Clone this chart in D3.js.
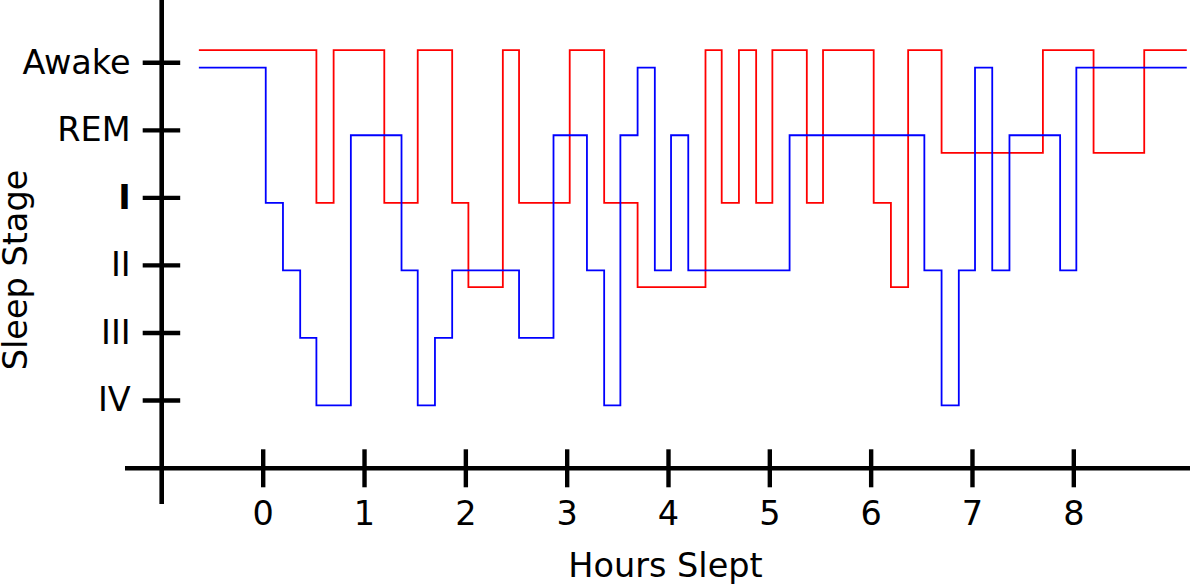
<!DOCTYPE html>
<html>
<head>
<meta charset="utf-8">
<script src="https://cdn.jsdelivr.net/npm/d3@7"></script>
<style>
body { margin: 0; background: #fff; }
text { font-family: "DejaVu Sans", sans-serif; }
</style>
</head>
<body>
<svg width="1190" height="584"></svg>
<script>
var stages = ["Awake", "REM", "I", "II", "III", "IV"];
var hourTicks = [0, 1, 2, 3, 4, 5, 6, 7, 8];

// blue sleeper: time each stage starts (hours), last entry = end of record
var blueHours = [-0.63, 0.03, 0.2, 0.37, 0.53, 0.87, 1.37, 1.53, 1.7, 1.87, 2.53, 2.87, 3.2, 3.37, 3.53, 3.7, 3.87, 4.03, 4.2, 5.2, 6.53, 6.7, 6.87, 7.03, 7.2, 7.37, 7.87, 8.03, 9.12];
var blueStages = ["Awake", "I", "II", "III", "IV", "REM", "II", "IV", "III", "II", "III", "REM", "II", "IV", "REM", "Awake", "II", "REM", "II", "REM", "II", "IV", "II", "Awake", "II", "REM", "II", "Awake", "Awake"];

// red trace: levels in stage units (0 = Awake ... 5 = IV)
var redHours = [-0.63, 0.53, 0.7, 1.2, 1.53, 1.87, 2.03, 2.37, 2.53, 3.03, 3.37, 3.7, 4.37, 4.53, 4.7, 4.87, 5.03, 5.37, 5.53, 6.03, 6.2, 6.37, 6.7, 7.7, 8.2, 8.7, 9.12];
var redLevels = [-0.18, 2.08, -0.18, 2.08, -0.18, 2.08, 3.33, -0.18, 2.08, -0.18, 2.08, 3.33, -0.18, 2.08, -0.18, 2.08, -0.18, 2.08, -0.18, 2.08, 3.33, -0.18, 1.34, -0.18, 1.34, -0.18, -0.18];

var svg = d3.select("svg");
svg.append("rect").attr("width", 1190).attr("height", 584).attr("fill", "#fff");

var x = d3.scaleLinear().domain([0, 8]).range([262.7, 1073.3]);
var y = d3.scaleLinear().domain([0, 5]).range([62.3, 400]);

var axisX = 161.7, axisY = 468.3;
var fs = 33.5;

// axis lines
svg.append("line").attr("x1", axisX).attr("x2", axisX).attr("y1", 0).attr("y2", 504)
  .attr("stroke", "#000").attr("stroke-width", 4.6);
svg.append("line").attr("x1", 125).attr("x2", 1190).attr("y1", axisY).attr("y2", axisY)
  .attr("stroke", "#000").attr("stroke-width", 4.6);

var gy = svg.append("g")
  .attr("transform", "translate(" + axisX + ",0)")
  .call(d3.axisLeft(y).tickValues(d3.range(stages.length))
    .tickFormat(function (d) { return stages[d]; })
    .tickSizeInner(19).tickSizeOuter(0).tickPadding(12));
gy.select(".domain").remove();
gy.selectAll(".tick line").attr("x1", 18.5).attr("stroke-width", 4.4);
gy.selectAll(".tick text")
  .attr("font-size", fs)
  .attr("font-family", "DejaVu Sans")
  .attr("fill", "#000")
  .attr("font-weight", function (d) { return d === 2 ? "bold" : "normal"; });

var gx = svg.append("g")
  .attr("transform", "translate(0," + axisY + ")")
  .call(d3.axisBottom(x).tickValues(hourTicks)
    .tickSizeInner(19).tickSizeOuter(0).tickPadding(14));
gx.select(".domain").remove();
gx.selectAll(".tick line").attr("y1", -19).attr("stroke-width", 4.4);
gx.selectAll(".tick text")
  .attr("font-size", fs)
  .attr("font-family", "DejaVu Sans")
  .attr("fill", "#000");

// axis titles
svg.append("text")
  .attr("x", 665.5).attr("y", 577)
  .attr("text-anchor", "middle")
  .attr("font-size", fs)
  .text("Hours Slept");
svg.append("text")
  .attr("transform", "translate(27,270) rotate(-90)")
  .attr("text-anchor", "middle")
  .attr("font-size", fs)
  .text("Sleep Stage");

// traces
var line = d3.line().curve(d3.curveStepAfter);

var redPts = redHours.map(function (h, i) { return [x(h), y(redLevels[i])]; });
svg.append("path")
  .attr("d", line(redPts))
  .attr("fill", "none")
  .attr("stroke", "#ff0000")
  .attr("stroke-width", 1.8);

var bluePts = blueHours.map(function (h, i) { return [x(h), y(stages.indexOf(blueStages[i]))]; });
svg.append("path")
  .attr("d", line(bluePts))
  .attr("transform", "translate(0,5.4)")
  .attr("fill", "none")
  .attr("stroke", "#0000ff")
  .attr("stroke-width", 1.8);
</script>
</body>
</html>
